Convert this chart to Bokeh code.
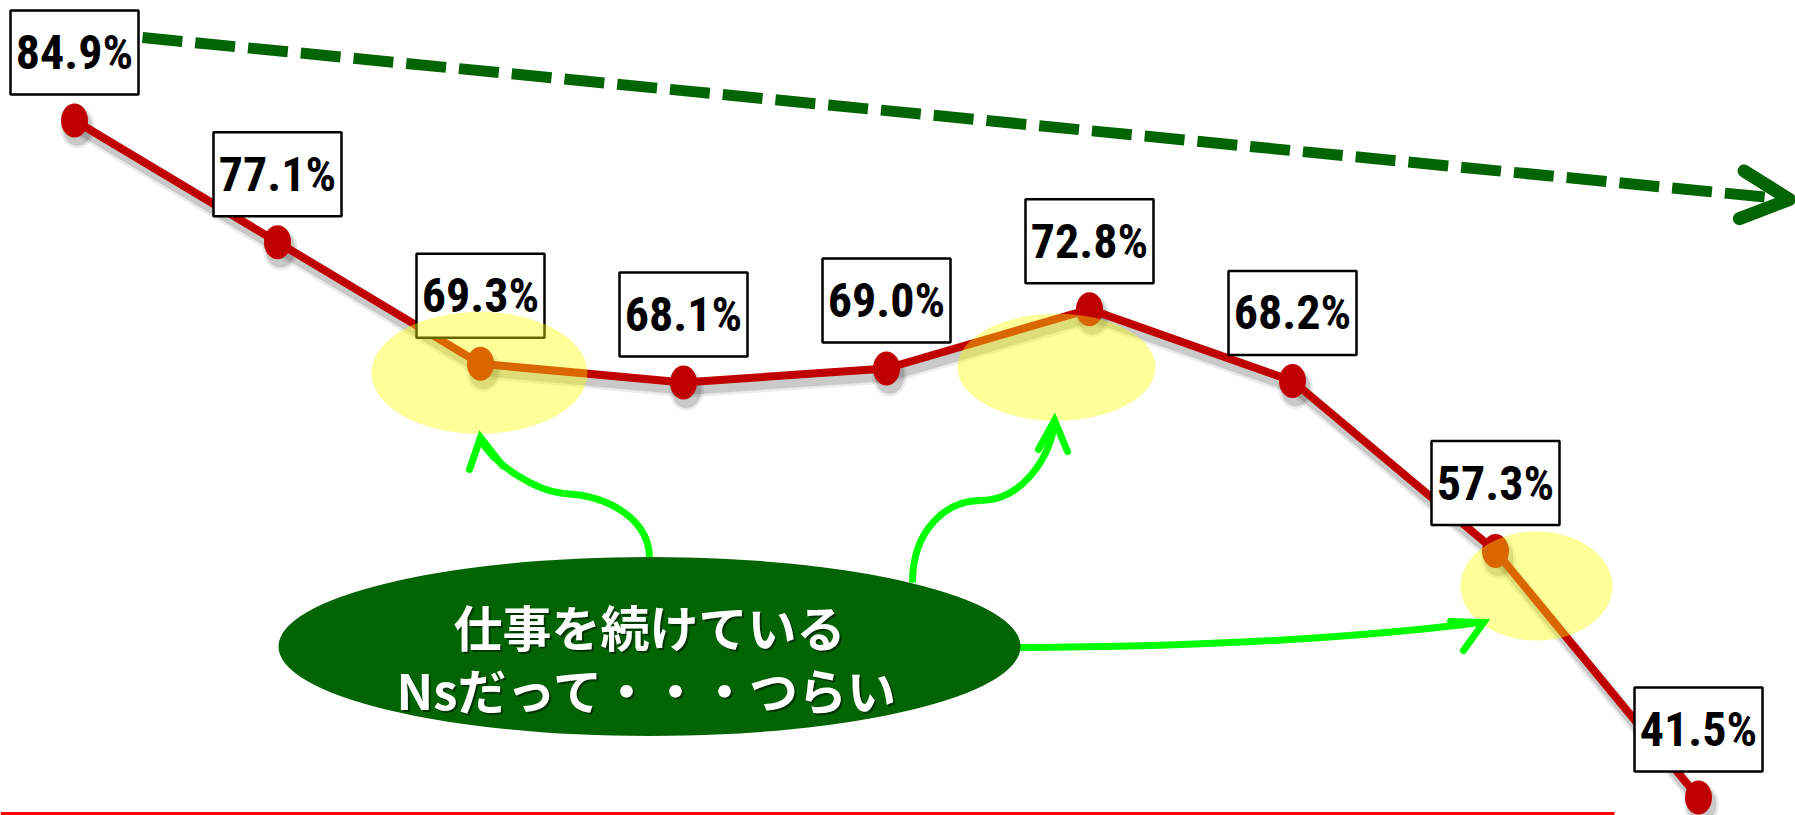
from bokeh.plotting import figure
from bokeh.models import Range1d, Arrow, OpenHead
from bokeh.core.properties import value
from bokeh.embed import file_html
from bokeh.resources import INLINE

# ---------------- data ----------------
steps = ["1", "2", "3", "4", "5", "6", "7", "8", "9"]
rates = [84.9, 77.1, 69.3, 68.1, 69.0, 72.8, 68.2, 57.3, 41.5]
rate_labels = ["84.9%", "77.1%", "69.3%", "68.1%", "69.0%", "72.8%", "68.2%", "57.3%", "41.5%"]
highlight_idx = [2, 5, 7]
message_lines = ["仕事を続けている", "Nsだって・・・つらい"]

# ---------------- layout ----------------
W, H = 1795, 815
X_FIRST_PX, X_STEP_PX = 74, 203.0
PX_PER_PCT = 15.6
Y_TOP = 92.59
Y_BOTTOM = Y_TOP - H / PX_PER_PCT
x_start = -X_FIRST_PX / X_STEP_PX
x_end = (W - X_FIRST_PX) / X_STEP_PX

def dx(px):
    return px / X_STEP_PX

def dy(px):
    return px / PX_PER_PCT

def X(px):
    return x_start + px / X_STEP_PX

def Y(py):
    return Y_TOP - py / PX_PER_PCT

xs = list(range(len(steps)))

p = figure(width=W, height=H, x_range=Range1d(x_start, x_end), y_range=Range1d(Y_BOTTOM, Y_TOP),
           output_backend="svg", toolbar_location=None, min_border=0)
p.axis.visible = False
p.grid.visible = False
p.outline_line_color = None
p.background_fill_color = "white"
p.border_fill_color = "white"

RED = "#C00000"
DGREEN = "#026402"
LIME = "#00FF00"

# bottom red rule
p.segment(x0=[X(0)], y0=[Y(813)], x1=[X(1614)], y1=[Y(813)], line_color="#FF0000", line_width=3)

# shadow of the line
for w, a in [(16, 0.08), (11, 0.14)]:
    p.line([x + dx(3) for x in xs], [v - dy(7) for v in rates], line_color="black",
           line_alpha=a, line_width=w, line_join="round")
    p.ellipse([x + dx(3) for x in xs], [v - dy(7) for v in rates], width=27 + w - 8, height=34 + w - 8,
              width_units="screen", height_units="screen", fill_color="black", fill_alpha=a, line_color=None)

# main line and markers
p.line(xs, rates, line_color=RED, line_width=8, line_join="round")
p.ellipse(xs, rates, width=27, height=34, width_units="screen", height_units="screen",
          fill_color=RED, line_color=None)

# value label boxes
lab_y = [v + dy(68) for v in rates]
p.rect(xs, lab_y, width=128, height=84, width_units="screen", height_units="screen",
       fill_color="white", line_color="black", line_width=2.5)
p.text(xs, lab_y, text=rate_labels, text_align="center", text_baseline="middle",
       text_font=value("'Noto Sans ExtraCondensed', 'Roboto Condensed', 'DejaVu Sans Condensed'"),
       text_font_size="48px", text_font_style="bold", text_color="black")

# dashed trend arrow
p.add_layout(Arrow(end=OpenHead(line_color=DGREEN, line_width=13, size=48, line_cap="round", line_join="round"),
                   x_start=X(142), y_start=Y(37), x_end=X(1789), y_end=Y(199),
                   line_color=DGREEN, line_width=11, line_dash="40 13"))

# highlight ellipses
hl_off = [(-1, 9), (-33, 58), (41, 35)]
hl_size = [(216, 122), (198, 107), (152, 109)]
p.ellipse([xs[i] + dx(o[0]) for i, o in zip(highlight_idx, hl_off)],
          [rates[i] - dy(o[1]) for i, o in zip(highlight_idx, hl_off)],
          width=[s[0] for s in hl_size], height=[s[1] for s in hl_size],
          width_units="screen", height_units="screen",
          fill_color="#FFFF00", fill_alpha=0.4, line_color=None)

# curved bright green arrows
curves = [
    ((649, 558), (649, 520), (610, 495), (563, 493)),
    ((563, 493), (535, 490), (495, 465), (481, 441)),
    ((912, 582), (912, 530), (945, 500), (980, 500)),
    ((980, 500), (1020, 500), (1048, 460), (1054, 424)),
    ((1019, 647), (1250, 646), (1400, 632), (1480, 622)),
]
p.bezier(x0=[X(c[0][0]) for c in curves], y0=[Y(c[0][1]) for c in curves],
         cx0=[X(c[1][0]) for c in curves], cy0=[Y(c[1][1]) for c in curves],
         cx1=[X(c[2][0]) for c in curves], cy1=[Y(c[2][1]) for c in curves],
         x1=[X(c[3][0]) for c in curves], y1=[Y(c[3][1]) for c in curves],
         line_color=LIME, line_width=7)
heads = [
    ((469, 469), (480, 437), (502, 465)),
    ((1038, 449), (1054, 420), (1067, 451)),
    ((1450, 621), (1483, 622), (1463, 650)),
]
p.multi_line([[X(h[0][0]), X(h[1][0]), X(h[2][0])] for h in heads],
             [[Y(h[0][1]), Y(h[1][1]), Y(h[2][1])] for h in heads],
             line_color=LIME, line_width=7, line_cap="round", line_join="miter")

# speech bubble
p.ellipse([X(649)], [Y(646)], width=742, height=179, width_units="screen", height_units="screen",
          fill_color=DGREEN, line_color=None)
msg_x = [X(649), X(647)]
msg_y = [Y(625), Y(688)]
p.text(msg_x, msg_y, text=message_lines, text_align="center", text_baseline="middle",
       text_font=value("Noto Sans CJK JP"), text_font_size="49px", text_font_style="bold",
       text_color="#002200", text_alpha=0.7, x_offset=2, y_offset=2)
p.text(msg_x, msg_y, text=message_lines, text_align="center", text_baseline="middle",
       text_font=value("Noto Sans CJK JP"), text_font_size="49px", text_font_style="bold",
       text_color="white")

open("out.html", "w").write(file_html(p, INLINE))
